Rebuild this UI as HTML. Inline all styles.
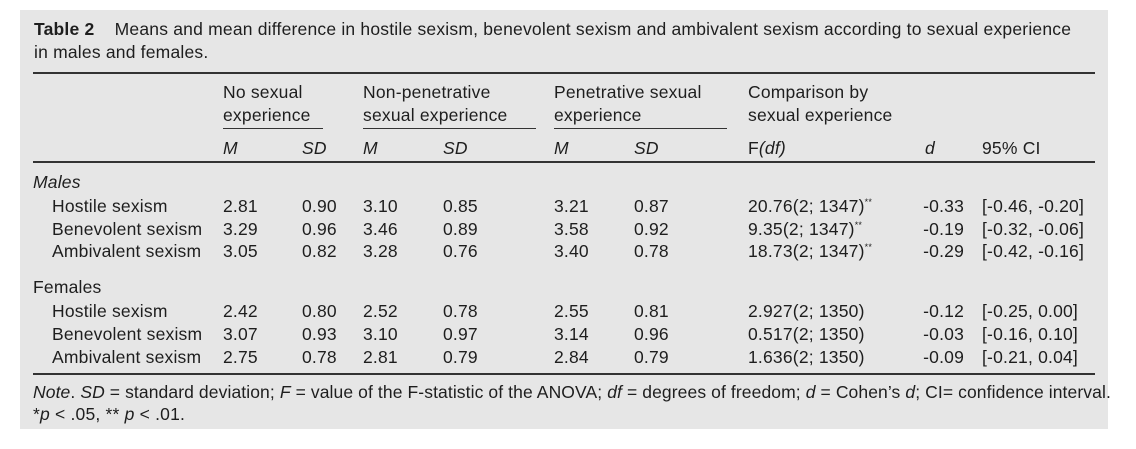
<!DOCTYPE html>
<html><head><meta charset="utf-8"><style>
html,body{margin:0;padding:0;background:#fff;}
#wrap{position:relative;width:1136px;height:449px;overflow:hidden;font-family:"Liberation Sans",Arial,sans-serif;color:#1e1e1e;}
#panel{position:absolute;left:20px;top:10px;width:1088px;height:419px;background:#e6e6e6;}
.t{position:absolute;font-size:17.5px;line-height:21px;white-space:nowrap;letter-spacing:0.2px;}
.i{font-style:italic;}
.r{text-align:right;}
.ln{position:absolute;background:#333;}
sup{font-size:9px;line-height:0;}
</style></head><body>
<div id="wrap">
<div id="panel"></div>
<div class="t" style="left:34px;top:19px;"><b>Table 2</b>&nbsp;&nbsp;&nbsp; Means and mean difference in hostile sexism, benevolent sexism and ambivalent sexism according to sexual experience</div>
<div class="t" style="left:34px;top:42px;">in males and females.</div>
<div class="ln" style="left:33px;top:72px;width:1062px;height:2px;"></div>
<div class="t" style="left:223px;top:81px;line-height:23px;">No sexual<br>experience</div>
<div class="t" style="left:363px;top:81px;line-height:23px;">Non-penetrative<br>sexual experience</div>
<div class="t" style="left:554px;top:81px;line-height:23px;">Penetrative sexual<br>experience</div>
<div class="t" style="left:748px;top:81px;line-height:23px;">Comparison by<br>sexual experience</div>
<div class="ln" style="left:223px;top:128px;width:100px;height:1px;"></div>
<div class="ln" style="left:363px;top:128px;width:173px;height:1px;"></div>
<div class="ln" style="left:554px;top:128px;width:173px;height:1px;"></div>
<div class="t i" style="left:223px;top:138px;">M</div>
<div class="t i" style="left:302px;top:138px;">SD</div>
<div class="t i" style="left:363px;top:138px;">M</div>
<div class="t i" style="left:443px;top:138px;">SD</div>
<div class="t i" style="left:554px;top:138px;">M</div>
<div class="t i" style="left:634px;top:138px;">SD</div>
<div class="t" style="left:748px;top:138px;">F<i>(df)</i></div>
<div class="t i" style="left:925px;top:138px;">d</div>
<div class="t" style="left:982px;top:138px;">95% CI</div>
<div class="ln" style="left:33px;top:161px;width:1062px;height:2px;"></div>
<div class="t i" style="left:33px;top:172px;">Males</div>
<div class="t" style="left:33px;top:277px;">Females</div>
<div id="rows"></div>
<div class="ln" style="left:33px;top:373px;width:1062px;height:2px;"></div>
<div class="t" style="left:33px;top:382px;letter-spacing:0.1px;"><i>Note</i>. <i>SD</i> = standard deviation; <i>F</i> = value of the F-statistic of the ANOVA; <i>df</i> = degrees of freedom; <i>d</i> = Cohen’s <i>d</i>; CI= confidence interval.</div>
<div class="t" style="left:33px;top:404px;">*<i>p</i> &lt; .05, ** <i>p</i> &lt; .01.</div>
</div>
<script>
const labels=["Hostile sexism","Benevolent sexism","Ambivalent sexism","Hostile sexism","Benevolent sexism","Ambivalent sexism"];
const m1=["2.81","3.29","3.05","2.42","3.07","2.75"];
const sd1=["0.90","0.96","0.82","0.80","0.93","0.78"];
const m2=["3.10","3.46","3.28","2.52","3.10","2.81"];
const sd2=["0.85","0.89","0.76","0.78","0.97","0.79"];
const m3=["3.21","3.58","3.40","2.55","3.14","2.84"];
const sd3=["0.87","0.92","0.78","0.81","0.96","0.79"];
const fv=["20.76(2; 1347)","9.35(2; 1347)","18.73(2; 1347)","2.927(2; 1350)","0.517(2; 1350)","1.636(2; 1350)"];
const sig=["**","**","**","","",""];
const dv=["-0.33","-0.19","-0.29","-0.12","-0.03","-0.09"];
const ci=["[-0.46, -0.20]","[-0.32, -0.06]","[-0.42, -0.16]","[-0.25, 0.00]","[-0.16, 0.10]","[-0.21, 0.04]"];
const tops=[196,219,241,301,324,347];
const rows=document.getElementById('rows');
function cell(txt,left,top,name,right){
  const el=document.createElement('div');
  el.className='t'+(right?' r':'');
  el.style.top=top+'px';
  if(right){el.style.left=(left-70)+'px';el.style.width='70px';}else el.style.left=left+'px';
  el.innerHTML=txt;
  
  
  rows.appendChild(el);
}
for(let i=0;i<labels.length;i++){
  const t=tops[i];
  cell(labels[i],52,t,'row-label');
  cell(m1[i],223,t,'cell-m1');
  cell(sd1[i],302,t,'cell-sd1');
  cell(m2[i],363,t,'cell-m2');
  cell(sd2[i],443,t,'cell-sd2');
  cell(m3[i],554,t,'cell-m3');
  cell(sd3[i],634,t,'cell-sd3');
  cell(fv[i]+(sig[i]?'<sup>'+sig[i]+'</sup>':''),748,t,'cell-f');
  cell(dv[i],964,t,'cell-d',true);
  cell(ci[i],982,t,'cell-ci');
}
</script>
</body></html>
